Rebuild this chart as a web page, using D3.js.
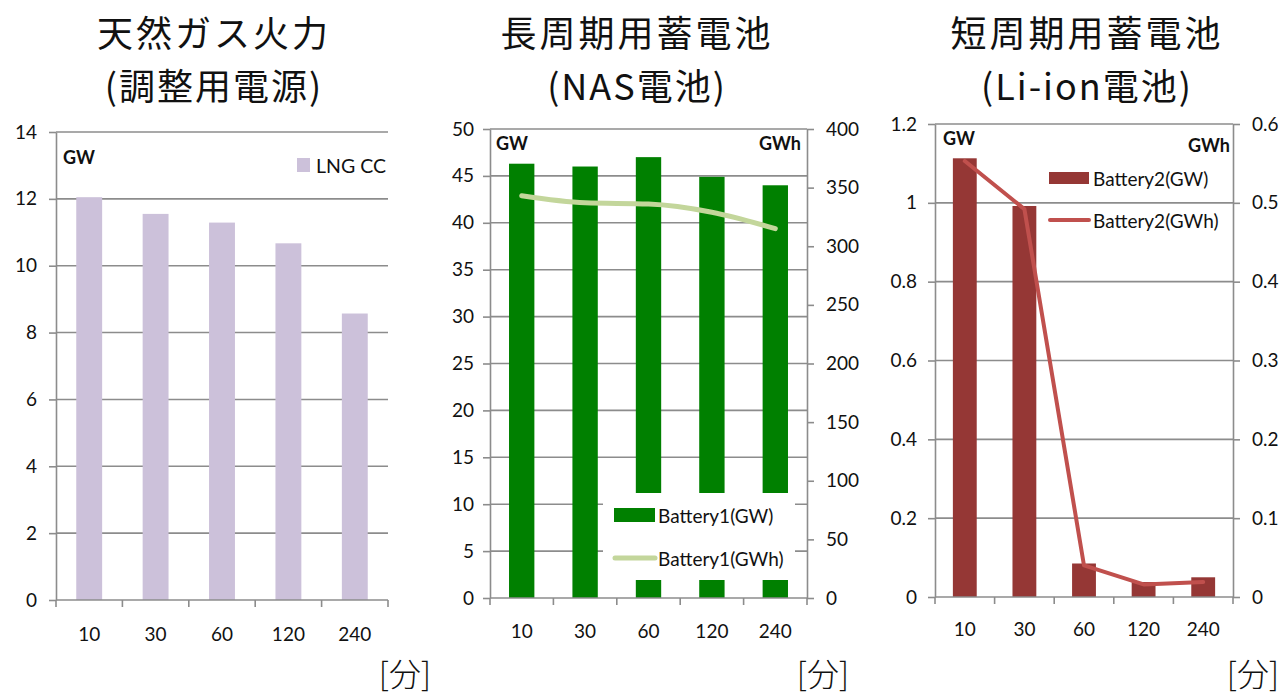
<!DOCTYPE html>
<html>
<head>
<meta charset="utf-8">
<script src="https://cdn.jsdelivr.net/npm/d3@7"></script>
<style>
  html, body { margin: 0; padding: 0; background: #fff; }
  svg { display: block; }
  .tick text, .lbl { font-family: Lato, "Liberation Sans", sans-serif; fill: #111; }
  .jp { font-family: "Noto Sans CJK JP", sans-serif; fill: #111; }
</style>
</head>
<body>
<svg id="chart" width="1285" height="695"></svg>
<script>
// Storage-duration categories (minutes)
const categories = ["10", "30", "60", "120", "240"];

// Gas-fired (load-following) capacity, GW
const lngGW = [12.05, 11.55, 11.29, 10.67, 8.57];

// NAS (long-cycle) battery: power GW, energy GWh
const nasGW = [46.3, 46.0, 47.0, 44.9, 44.0];
const nasGWh = [343, 337, 336, 329, 315];

// Li-ion (short-cycle) battery: power GW, energy GWh
const liGW = [1.113, 0.992, 0.085, 0.038, 0.050];
const liGWh = [0.553, 0.492, 0.040, 0.016, 0.019];

// Axis ticks
const lngTicks = [0, 2, 4, 6, 8, 10, 12, 14];
const nasLeftTicks = [0, 5, 10, 15, 20, 25, 30, 35, 40, 45, 50];
const nasRightTicks = [0, 50, 100, 150, 200, 250, 300, 350, 400];
const liLeftTicks = [0, 0.2, 0.4, 0.6, 0.8, 1, 1.2];
const liRightTicks = [0, 0.1, 0.2, 0.3, 0.4, 0.5, 0.6];

// Titles and legend labels
const titles = [
  ["天然ガス火力", "(調整用電源)"],
  ["長周期用蓄電池", "(NAS電池)"],
  ["短周期用蓄電池", "(Li-ion電池)"]
];
const unitX = "[分]";

const svg = d3.select("#chart");
const GRID = "#8c8c8c";
const FS = 19;

function panel(o) {
  const g = svg.append("g");
  const x = d3.scaleBand().domain(categories).range([o.x0, o.x1]).paddingInner(o.pad).paddingOuter(o.pad / 2);
  const y = d3.scaleLinear().domain([0, d3.max(o.leftTicks)]).range([o.yb, o.yt]);

  // horizontal gridlines
  g.append("g").selectAll("line").data(o.leftTicks.filter(t => t > 0)).join("line")
    .attr("x1", o.x0).attr("x2", o.x1)
    .attr("y1", d => y(d)).attr("y2", d => y(d))
    .attr("stroke", GRID).attr("stroke-width", 1.6);

  // left axis
  const la = g.append("g").attr("transform", `translate(${o.x0},0)`)
    .call(d3.axisLeft(y).tickValues(o.leftTicks).tickSize(7).tickSizeOuter(0).tickPadding(o.lpad).tickFormat(d => String(d)));
  la.selectAll("line, path").attr("stroke", GRID).attr("stroke-width", 1.6);
  la.selectAll("text").attr("font-size", FS).attr("font-family", "Lato, sans-serif");

  // bars
  g.append("g").selectAll("rect").data(o.bars).join("rect")
    .attr("x", (d, i) => x(categories[i]))
    .attr("width", x.bandwidth())
    .attr("y", d => y(d))
    .attr("height", d => y(0) - y(d))
    .attr("fill", o.barColor);

  // right axis + line series
  if (o.rightTicks) {
    const y2 = d3.scaleLinear().domain([0, d3.max(o.rightTicks)]).range([o.yb, o.yt]);
    const ra = g.append("g").attr("transform", `translate(${o.x1},0)`)
      .call(d3.axisRight(y2).tickValues(o.rightTicks).tickSize(7).tickSizeOuter(0).tickPadding(o.rpad).tickFormat(d => String(d)));
    ra.selectAll("line, path").attr("stroke", GRID).attr("stroke-width", 1.6);
    ra.selectAll("text").attr("font-size", FS).attr("font-family", "Lato, sans-serif");

    const line = d3.line()
      .x((d, i) => x(categories[i]) + x.bandwidth() / 2)
      .y(d => y2(d))
      .curve(o.curve || d3.curveLinear);
    g.append("path").datum(o.line)
      .attr("d", line).attr("fill", "none")
      .attr("stroke", o.lineColor).attr("stroke-width", o.lineWidth)
      .attr("stroke-linecap", "round").attr("stroke-linejoin", "round");
  }

  // bottom axis line with category boundary ticks
  g.append("line").attr("x1", o.x0).attr("x2", o.x1).attr("y1", o.yb).attr("y2", o.yb)
    .attr("stroke", GRID).attr("stroke-width", 1.6);
  g.append("g").selectAll("line").data(d3.range(categories.length + 1)).join("line")
    .attr("x1", i => o.x0 + i * x.step()).attr("x2", i => o.x0 + i * x.step())
    .attr("y1", o.yb).attr("y2", o.yb + 7)
    .attr("stroke", GRID).attr("stroke-width", 1.6);
  g.append("g").selectAll("text").data(categories).join("text")
    .attr("class", "lbl")
    .attr("x", d => x(d) + x.bandwidth() / 2)
    .attr("y", o.yb + o.xLabelDy)
    .attr("text-anchor", "middle").attr("dominant-baseline", "central")
    .attr("font-size", FS).text(d => d);

  // unit labels in plot corners
  g.append("text").attr("class", "lbl").attr("x", o.gwX).attr("y", o.gwY)
    .attr("dominant-baseline", "central").attr("font-size", 18).attr("font-weight", "bold").text("GW");
  if (o.gwhX) {
    g.append("text").attr("class", "lbl").attr("x", o.gwhX).attr("y", o.gwhY)
      .attr("text-anchor", "end").attr("dominant-baseline", "central")
      .attr("font-size", 18).attr("font-weight", "bold").text("GWh");
  }

  // title, two lines
  g.append("text").attr("class", "jp").attr("text-anchor", "middle")
    .attr("font-size", 36).attr("letter-spacing", 3)
    .attr("x", o.titleX).attr("y", 47).text(o.title[0]);
  g.append("text").attr("class", "jp").attr("text-anchor", "middle")
    .attr("font-size", 36).attr("letter-spacing", 2)
    .attr("x", o.titleX).attr("y", 100).text(o.title[1]);

  // x unit
  g.append("text").attr("class", "jp").attr("x", o.unitX).attr("y", 672)
    .attr("text-anchor", "end").attr("dominant-baseline", "central")
    .attr("font-size", 32).attr("font-weight", 300).text(unitX);

  return g;
}

// Panel 1: gas-fired
const g1 = panel({
  x0: 56, x1: 388, yt: 132, yb: 600, pad: 0.61, lpad: 12,
  leftTicks: lngTicks, bars: lngGW, barColor: "#ccc1da",
  xLabelDy: 33, gwX: 63, gwY: 157, title: titles[0], titleX: 214, unitX: 431
});
g1.append("rect").attr("x", 297).attr("y", 158).attr("width", 13).attr("height", 14).attr("fill", "#ccc1da");
g1.append("text").attr("class", "lbl").attr("x", 316).attr("y", 165)
  .attr("dominant-baseline", "central").attr("font-size", 19.5).text("LNG CC");

// Panel 2: NAS battery
const g2 = panel({
  x0: 490, x1: 807, yt: 129, yb: 598, pad: 0.6, lpad: 9, rpad: 12,
  leftTicks: nasLeftTicks, rightTicks: nasRightTicks,
  bars: nasGW, barColor: "#008000",
  line: nasGWh, lineColor: "#c3d69b", lineWidth: 5, curve: d3.curveMonotoneX,
  xLabelDy: 32, gwX: 496, gwY: 143, gwhX: 801, gwhY: 143,
  title: titles[1], titleX: 637, unitX: 849
});
g2.append("rect").attr("x", 603).attr("y", 493).attr("width", 192).attr("height", 87).attr("fill", "#fff");
g2.append("rect").attr("x", 614).attr("y", 508).attr("width", 41).attr("height", 14).attr("fill", "#008000");
g2.append("text").attr("class", "lbl").attr("x", 658).attr("y", 515)
  .attr("dominant-baseline", "central").attr("font-size", 19).text("Battery1(GW)");
g2.append("line").attr("x1", 615).attr("x2", 655).attr("y1", 558).attr("y2", 558)
  .attr("stroke", "#c3d69b").attr("stroke-width", 5).attr("stroke-linecap", "round");
g2.append("text").attr("class", "lbl").attr("x", 658).attr("y", 558)
  .attr("dominant-baseline", "central").attr("font-size", 19).text("Battery1(GWh)");

// Panel 3: Li-ion battery
const g3 = panel({
  x0: 935, x1: 1233, yt: 124, yb: 597, pad: 0.6, lpad: 11, rpad: 12,
  leftTicks: liLeftTicks, rightTicks: liRightTicks,
  bars: liGW, barColor: "#953735",
  line: liGWh, lineColor: "#c0504d", lineWidth: 4,
  xLabelDy: 31, gwX: 943, gwY: 138, gwhX: 1230, gwhY: 145,
  title: titles[2], titleX: 1087, unitX: 1279
});
g3.append("rect").attr("x", 1049).attr("y", 172).attr("width", 40).attr("height", 12).attr("fill", "#953735");
g3.append("text").attr("class", "lbl").attr("x", 1093).attr("y", 178)
  .attr("dominant-baseline", "central").attr("font-size", 19).text("Battery2(GW)");
g3.append("line").attr("x1", 1050).attr("x2", 1089).attr("y1", 220).attr("y2", 220)
  .attr("stroke", "#c0504d").attr("stroke-width", 4).attr("stroke-linecap", "round");
g3.append("text").attr("class", "lbl").attr("x", 1093).attr("y", 220)
  .attr("dominant-baseline", "central").attr("font-size", 19).text("Battery2(GWh)");
</script>
</body>
</html>
